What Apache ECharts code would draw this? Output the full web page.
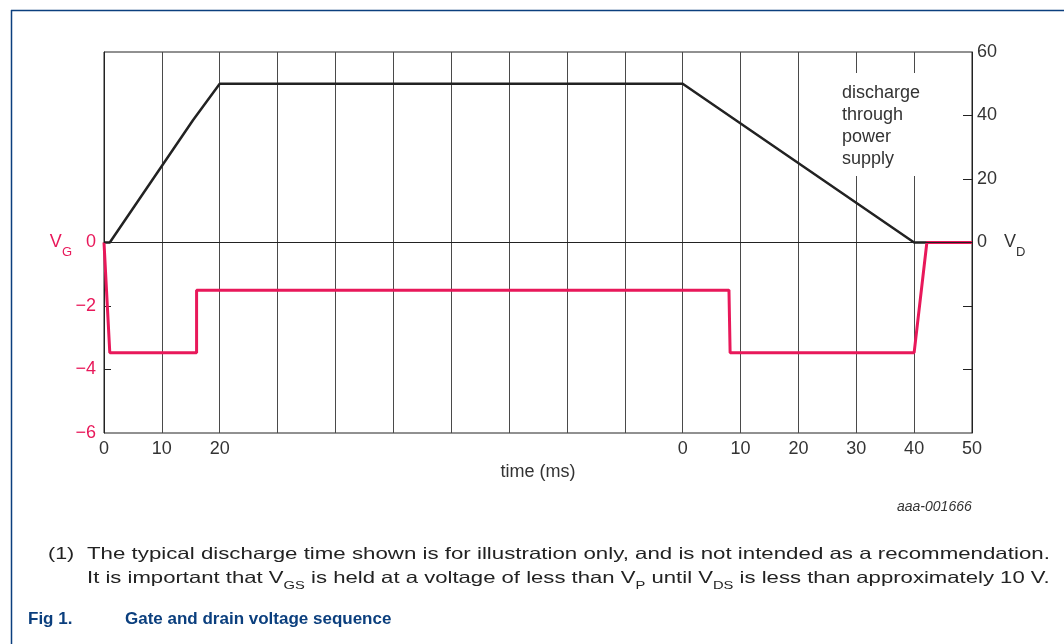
<!DOCTYPE html>
<html>
<head>
<meta charset="utf-8">
<script src="https://cdn.jsdelivr.net/npm/echarts@6/dist/echarts.min.js"></script>
<style>
  html, body { margin: 0; padding: 0; background: #fff; }
  #main { width: 1064px; height: 644px; }
</style>
</head>
<body>
<div id="main"></div>
<script>
// drain voltage (right axis, V) over time (ms, two spliced time windows)
var vdTime = [0, 1, 15.4, 20, 100, 140, 150]
var vdVolt = [0, 0, 38.6, 50, 50, 0, 0]
// gate voltage (left axis, V)
var vgTime = [0, 1, 16, 16, 108, 108.2, 140, 142.2, 150]
var vgVolt = [0, -3.47, -3.47, -1.5, -1.5, -3.47, -3.47, 0, 0]
// tick labels
var xLeftTicks = [0, 10, 20]
var xRightTicks = [100, 110, 120, 130, 140, 150]
var vgLabels = [0, -2, -4, -6]
var vdLabels = [0, 20, 40, 60]

var pink = '#e8185a'
var ink = '#222'
var font = '"Liberation Sans", Arial, sans-serif'

function pairs(xs, ys) {
  return xs.map(function (x, i) { return [x, ys[i]] })
}

const myCharts = echarts.init(document.getElementById('main'))
const option = {
  animation: false,
  backgroundColor: '#fff',
  textStyle: { fontFamily: font },
  grid: {
    left: 104, right: 92, top: 52, bottom: 211,
    show: true, borderColor: ink, borderWidth: 1, backgroundColor: 'transparent'
  },
  xAxis: {
    type: 'value', min: 0, max: 150, interval: 10,
    name: 'time (ms)', nameLocation: 'middle', nameGap: 30,
    nameTextStyle: { fontSize: 18, color: '#333', fontFamily: font },
    axisLine: { show: true, lineStyle: { color: ink, width: 1 } },
    axisTick: { show: false },
    splitLine: { show: true, lineStyle: { color: '#4a4a4a', width: 1 } },
    axisLabel: {
      fontSize: 18, color: '#333', margin: 7, fontFamily: font,
      formatter: function (v) {
        if (xLeftTicks.indexOf(v) >= 0) return String(v)
        if (xRightTicks.indexOf(v) >= 0) return String(v - 100)
        return ''
      }
    }
  },
  yAxis: [
    {
      type: 'value', min: -6, max: 6, interval: 2, position: 'left',
      axisLine: { show: true, lineStyle: { color: ink, width: 1 } },
      axisTick: { show: true, inside: true, length: 7, customValues: [-2, -4], lineStyle: { color: ink } },
      splitLine: { show: false },
      axisLabel: {
        customValues: vgLabels, margin: 8, color: pink, fontSize: 18, fontFamily: font,
        formatter: function (v) {
          if (v === 0) return '{v|V}{s|G}{z|0}'
          return '\u2212' + Math.abs(v)
        },
        rich: {
          v: { fontSize: 18, color: pink, fontFamily: font, lineHeight: 24 },
          s: { fontSize: 13, color: pink, fontFamily: font, lineHeight: 24, verticalAlign: 'bottom', padding: [0, 0, -4, 0] },
          z: { fontSize: 18, color: pink, fontFamily: font, lineHeight: 24, padding: [0, 0, 0, 14] }
        }
      }
    },
    {
      type: 'value', min: -60, max: 60, interval: 20, position: 'right',
      axisLine: { show: true, lineStyle: { color: ink, width: 1 } },
      axisTick: { show: true, inside: true, length: 9, customValues: [40, 20, -20, -40], lineStyle: { color: ink } },
      splitLine: { show: false },
      axisLabel: {
        customValues: vdLabels, margin: 5, color: '#333', fontSize: 18, fontFamily: font,
        formatter: function (v) {
          if (v === 0) return '{z|0}{v|V}{s|D}'
          return String(v)
        },
        rich: {
          z: { fontSize: 18, color: '#333', fontFamily: font, lineHeight: 24 },
          v: { fontSize: 18, color: '#333', fontFamily: font, lineHeight: 24, padding: [0, 0, 0, 17] },
          s: { fontSize: 13, color: '#333', fontFamily: font, lineHeight: 24, verticalAlign: 'bottom', padding: [0, 0, -4, 0] }
        }
      }
    }
  ],
  series: [
    {
      name: 'VD', type: 'line', yAxisIndex: 1, showSymbol: false, symbol: 'none',
      lineStyle: { color: ink, width: 2.5 }, z: 3,
      data: pairs(vdTime, vdVolt),
      markLine: {
        silent: true, symbol: 'none', label: { show: false },
        lineStyle: { color: ink, width: 1, type: 'solid' },
        data: [{ yAxis: 0 }]
      }
    },
    {
      name: 'VG', type: 'line', yAxisIndex: 0, showSymbol: false, symbol: 'none',
      lineStyle: { color: pink, width: 3 }, z: 4,
      data: pairs(vgTime, vgVolt)
    }
  ],
  graphic: [
    // page frame
    { type: 'line', z: 100, shape: { x1: 11, y1: 10.5, x2: 1064, y2: 10.5 }, style: { stroke: '#0b3f7e', lineWidth: 1.5 } },
    { type: 'line', z: 100, shape: { x1: 11.5, y1: 10, x2: 11.5, y2: 644 }, style: { stroke: '#0b3f7e', lineWidth: 1.5 } },
    // annotation box
    { type: 'rect', z: 100, shape: { x: 838, y: 73, width: 88, height: 103 }, style: { fill: '#fff' } },
    {
      type: 'text', z: 101, x: 842, y: 82,
      style: { text: 'discharge\nthrough\npower\nsupply', font: '18px ' + font, fill: '#333', lineHeight: 22 }
    },
    {
      type: 'text', z: 101, x: 897, y: 507,
      style: { text: 'aaa-001666', font: 'italic 14px ' + font, fill: '#333', verticalAlign: 'middle' }
    },
    {
      type: 'text', z: 101, x: 48, y: 554, scaleX: 1.3,
      style: { text: '(1)', font: '16.5px ' + font, fill: '#222', verticalAlign: 'middle' }
    },
    {
      type: 'text', z: 101, x: 87, y: 554, scaleX: 1.35,
      style: { text: 'The typical discharge time shown is for illustration only, and is not intended as a recommendation.', font: '16.5px ' + font, fill: '#222', verticalAlign: 'middle' }
    },
    {
      type: 'text', z: 101, x: 87, y: 578, scaleX: 1.34,
      style: {
        verticalAlign: 'middle',
        text: '{t|It is important that V}{s|GS}{t| is held at a voltage of less than V}{s|P}{t| until V}{s|DS}{t| is less than approximately 10 V.}',
        rich: {
          t: { font: '16.5px ' + font, fill: '#222', lineHeight: 22 },
          s: { font: '11px ' + font, fill: '#222', lineHeight: 22, verticalAlign: 'bottom', padding: [0, 0, -2, 0] }
        }
      }
    },
    {
      type: 'text', z: 101, x: 28, y: 619,
      style: { text: 'Fig 1.', font: 'bold 17px ' + font, fill: '#0b3f7e', verticalAlign: 'middle' }
    },
    {
      type: 'text', z: 101, x: 125, y: 619,
      style: { text: 'Gate and drain voltage sequence', font: 'bold 17px ' + font, fill: '#0b3f7e', verticalAlign: 'middle' }
    }
  ]
}
myCharts.setOption(option)
</script>
</body>
</html>
